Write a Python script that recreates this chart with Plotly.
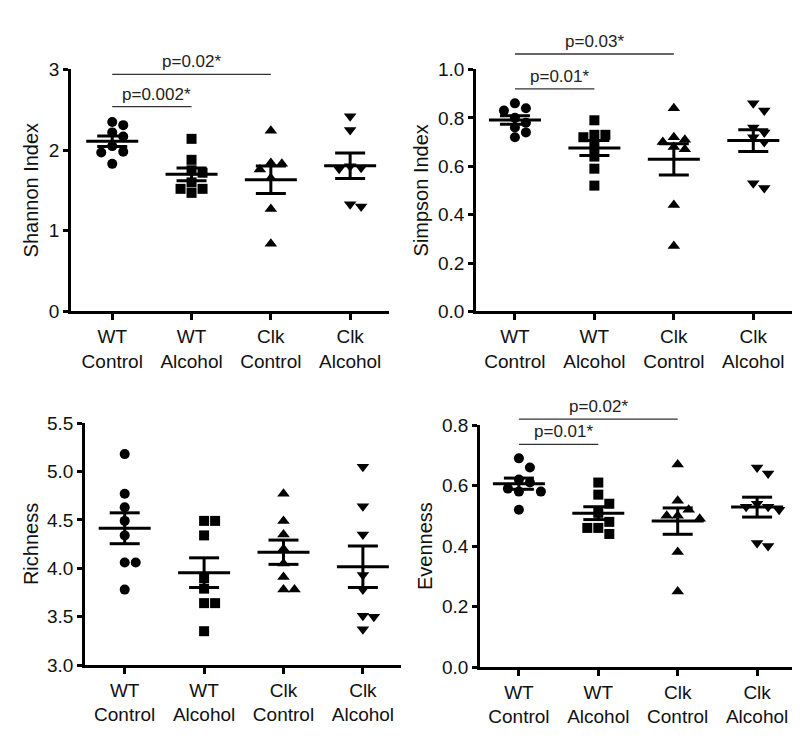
import math
import plotly.graph_objects as go

# ---------------- data ----------------
groups = ["WT<br>Control", "WT<br>Alcohol", "Clk<br>Control", "Clk<br>Alcohol"]
symbols = ["circle", "square", "triangle-up", "triangle-down"]

shannon_wt_ctrl = [2.35, 2.31, 2.22, 2.17, 2.05, 1.98, 1.97, 1.83]
shannon_wt_alc = [2.14, 1.88, 1.75, 1.72, 1.60, 1.52, 1.52, 1.47]
shannon_clk_ctrl = [2.24, 1.84, 1.83, 1.76, 1.65, 1.27, 0.84]
shannon_clk_alc = [2.42, 2.25, 1.80, 1.78, 1.77, 1.33, 1.30]

simpson_wt_ctrl = [0.86, 0.84, 0.83, 0.80, 0.78, 0.76, 0.74, 0.72]
simpson_wt_alc = [0.79, 0.73, 0.73, 0.72, 0.68, 0.64, 0.59, 0.52]
simpson_clk_ctrl = [0.84, 0.72, 0.71, 0.70, 0.68, 0.67, 0.44, 0.27]
simpson_clk_alc = [0.86, 0.83, 0.76, 0.74, 0.72, 0.70, 0.53, 0.51]

richness_wt_ctrl = [5.18, 4.77, 4.63, 4.49, 4.34, 4.06, 4.06, 3.78]
richness_wt_alc = [4.49, 4.49, 4.34, 3.90, 3.79, 3.64, 3.64, 3.35]
richness_clk_ctrl = [4.77, 4.49, 4.35, 4.20, 4.05, 3.91, 3.78, 3.78]
richness_clk_alc = [5.05, 4.64, 4.35, 3.93, 3.78, 3.51, 3.50, 3.37]

evenness_wt_ctrl = [0.69, 0.66, 0.62, 0.61, 0.59, 0.58, 0.58, 0.52]
evenness_wt_alc = [0.61, 0.57, 0.54, 0.51, 0.48, 0.46, 0.46, 0.44]
evenness_clk_ctrl = [0.67, 0.55, 0.52, 0.50, 0.50, 0.49, 0.38, 0.25]
evenness_clk_alc = [0.66, 0.64, 0.54, 0.53, 0.53, 0.52, 0.41, 0.40]

# comparisons: (group a, group b, label, bracket height in axis units)
shannon_comparisons = [(0, 1, "p=0.002*", 2.54), (0, 2, "p=0.02*", 2.94)]
simpson_comparisons = [(0, 1, "p=0.01*", 0.92), (0, 2, "p=0.03*", 1.064)]
richness_comparisons = []
evenness_comparisons = [(0, 1, "p=0.01*", 0.736), (0, 2, "p=0.02*", 0.82)]

# ---------------- layout ----------------
W, H = 800, 739
FONT = "Arial, Liberation Sans, Helvetica, sans-serif"

panels = [
    dict(title="Shannon Index", data=[shannon_wt_ctrl, shannon_wt_alc, shannon_clk_ctrl, shannon_clk_alc],
         comps=shannon_comparisons, xpx=(63, 381), ypx=(53, 302), yr=(0, 3), dtick=1, fmt="d",
         xr=(-0.52, 3.49), tx=23),
    dict(title="Simpson Index", data=[simpson_wt_ctrl, simpson_wt_alc, simpson_clk_ctrl, simpson_clk_alc],
         comps=simpson_comparisons, xpx=(468, 785), ypx=(53, 302), yr=(0, 1.0), dtick=0.2, fmt=".1f",
         xr=(-0.49, 3.5), tx=413),
    dict(title="Richness", data=[richness_wt_ctrl, richness_wt_alc, richness_clk_ctrl, richness_clk_alc],
         comps=richness_comparisons, xpx=(77, 393), ypx=(417, 666), yr=(3.0, 5.5), dtick=0.5, fmt=".1f",
         xr=(-0.5, 3.48), tx=23),
    dict(title="Evenness", data=[evenness_wt_ctrl, evenness_wt_alc, evenness_clk_ctrl, evenness_clk_alc],
         comps=evenness_comparisons, xpx=(472, 788), ypx=(419, 668), yr=(0, 0.8), dtick=0.2, fmt=".1f",
         xr=(-0.49, 3.49), tx=417),
]


def swarm(vals, ppu, d_px=9.5, step_px=11.0):
    order = sorted(range(len(vals)), key=lambda i: -vals[i])
    placed = []
    offs = [0.0] * len(vals)
    cands = [0.0]
    for k in range(1, 8):
        cands += [k * step_px, -k * step_px]
    for i in order:
        y = vals[i] * ppu
        for c in cands:
            if all(math.hypot(c - px, y - py) >= d_px for px, py in placed):
                offs[i] = c
                placed.append((c, y))
                break
    return offs


fig = go.Figure()
layout = dict(width=W, height=H, margin=dict(l=0, r=0, t=0, b=0),
              paper_bgcolor="white", plot_bgcolor="white", showlegend=False,
              font=dict(family=FONT, color="black"))
annotations = []
shapes = []

for p_i, p in enumerate(panels):
    ax = "" if p_i == 0 else str(p_i + 1)
    xa, ya = "x" + ax, "y" + ax
    x0, x1 = p["xpx"]
    yt, yb = p["ypx"]
    cat_px = (x1 - x0) / (p["xr"][1] - p["xr"][0])
    ppu = (yb - yt) / (p["yr"][1] - p["yr"][0])

    def y_to_paper(v, yb=yb, ppu=ppu, y0=p["yr"][0]):
        return 1 - (yb - (v - y0) * ppu) / H

    layout["xaxis" + ax] = dict(domain=[x0 / W, x1 / W], range=list(p["xr"]), anchor=ya,
                                tickvals=list(range(len(groups))), ticktext=groups,
                                showline=True, linewidth=2.5, linecolor="black",
                                ticks="outside", ticklen=6, tickwidth=2.5, tickcolor="black",
                                showgrid=False, zeroline=False, fixedrange=True,
                                tickfont=dict(size=19, family=FONT, color="#111"))
    ticks = []
    v = p["yr"][0]
    while v <= p["yr"][1] + 1e-9:
        ticks.append(round(v, 3))
        v += p["dtick"]
    layout["yaxis" + ax] = dict(domain=[1 - yb / H, 1 - yt / H], range=list(p["yr"]), anchor=xa,
                                tickvals=ticks,
                                ticktext=[(f"{t:.0f}" if p["fmt"] == "d" else f"{t:.1f}") for t in ticks],
                                showline=True, linewidth=2.5, linecolor="black",
                                ticks="outside", ticklen=5, tickwidth=2.5, tickcolor="black",
                                showgrid=False, zeroline=False, fixedrange=True,
                                tickfont=dict(size=19, family=FONT, color="#111"))

    for g_i, vals in enumerate(p["data"]):
        offs = swarm(vals, ppu)
        xs = [g_i + o / cat_px for o in offs]
        msize = 10 if symbols[g_i] in ("circle", "square") else 11
        fig.add_trace(go.Scatter(x=xs, y=vals, mode="markers", xaxis=xa, yaxis=ya,
                                 marker=dict(symbol=symbols[g_i], size=msize, color="black",
                                             line=dict(width=0)),
                                 cliponaxis=False, hoverinfo="y"))
        n = len(vals)
        mean = sum(vals) / n
        sd = math.sqrt(sum((v - mean) ** 2 for v in vals) / (n - 1))
        sem = sd / math.sqrt(n)
        mw = 26 / cat_px
        sw = 15 / cat_px
        lx = [g_i - mw, g_i + mw, None, g_i - sw, g_i + sw, None, g_i - sw, g_i + sw, None, g_i, g_i]
        ly = [mean, mean, None, mean + sem, mean + sem, None, mean - sem, mean - sem, None,
              mean - sem, mean + sem]
        fig.add_trace(go.Scatter(x=lx, y=ly, mode="lines", xaxis=xa, yaxis=ya,
                                 line=dict(color="black", width=3), hoverinfo="skip",
                                 cliponaxis=False))

    for a, b, label, h in p["comps"]:
        shapes.append(dict(type="line", xref=xa, yref="paper", x0=a, x1=b,
                           y0=y_to_paper(h), y1=y_to_paper(h),
                           line=dict(color="#333", width=1.3)))
        annotations.append(dict(x=(a + b) / 2, y=y_to_paper(h), xref=xa, yref="paper",
                                text=label, showarrow=False,
                                yanchor="bottom", yshift=1, xshift=(5 if b - a == 1 else 0),
                                font=dict(size=17, family=FONT, color="#222")))

    annotations.append(dict(x=p["tx"] / W, y=1 - ((yt + yb) / 2) / H, xref="paper", yref="paper",
                            text=p["title"], textangle=-90, showarrow=False,
                            xanchor="center", yanchor="middle",
                            font=dict(size=20, family=FONT, color="#111")))

layout["annotations"] = annotations
layout["shapes"] = shapes
fig.update_layout(**layout)
fig.write_html("out.html")
